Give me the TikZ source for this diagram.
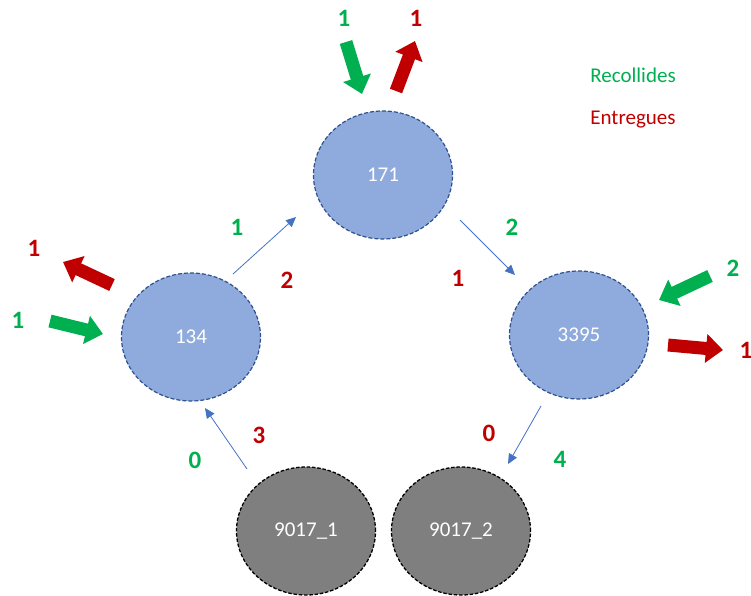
\documentclass[tikz,border=0pt]{standalone}
\usepackage{fontspec}
\setmainfont{Carlito}
\usetikzlibrary{arrows.meta,shapes.geometric}

\definecolor{recgreen}{HTML}{00B050}
\definecolor{entred}{HTML}{C00000}
\definecolor{linkblue}{HTML}{4472C4}
\definecolor{nodefill}{HTML}{8FAADC}
\definecolor{nodeline}{HTML}{2F528F}
\definecolor{depotfill}{HTML}{7F7F7F}

\tikzset{
  stop/.style={ellipse, fill=nodefill, draw=nodeline, line width=1.2pt,
    dash pattern=on 4pt off 2pt, minimum width=139pt, minimum height=128pt,
    inner sep=0pt, text=white, font=\fontsize{21}{24}\selectfont},
  depot/.style={stop, fill=depotfill, draw=black, line width=1.3pt,
    dash pattern=on 3.5pt off 1.8pt},
  link/.style={draw=linkblue, line width=0.8pt,
    -{Triangle[length=10pt,width=9pt]}},
  bigarrow/.style={line width=13pt, -{Triangle[length=17pt,width=28pt]}},
  inarrow/.style={bigarrow, draw=recgreen},
  outarrow/.style={bigarrow, draw=entred},
  num/.style={font=\fontsize{25}{28}\selectfont\bfseries},
  pick/.style={num, text=recgreen},
  drop/.style={num, text=entred},
}

\begin{document}
\begin{tikzpicture}[x=1pt, y=-1pt]
  \useasboundingbox (0,0) rectangle (751,595);

  % stops of the route
  \node[stop] (n171) at (383,175) {171};
  \node[stop] (n134) at (191,337) {134};
  \node[stop] (n3395) at (579,335) {3395};
  \node[depot] (d1) at (306,531) {9017\_1};
  \node[depot] (d2) at (461,531) {9017\_2};

  % ends of the route links
  \coordinate (a1) at (233,274);  \coordinate (b1) at (296,217);
  \coordinate (a2) at (460,220);  \coordinate (b2) at (515,275);
  \coordinate (a3) at (247,469);  \coordinate (b3) at (205,408);
  \coordinate (a4) at (541,406);  \coordinate (b4) at (508,464);

  \draw[link] (a1) -- (b1);
  \draw[link] (a2) -- (b2);
  \draw[link] (a3) -- (b3);
  \draw[link] (a4) -- (b4);

  % pickups and deliveries at each stop
  \coordinate (p171s) at (346,42);  \coordinate (p171e) at (362,94);
  \coordinate (q171s) at (396,91);  \coordinate (q171e) at (415,41);
  \coordinate (p134s) at (50,321);  \coordinate (p134e) at (103,334);
  \coordinate (q134s) at (112,285); \coordinate (q134e) at (63,262);
  \coordinate (p3395s) at (710,276); \coordinate (p3395e) at (659,300);
  \coordinate (q3395s) at (668,345); \coordinate (q3395e) at (723,350);

  \draw[inarrow] (p171s) -- (p171e);
  \draw[outarrow] (q171s) -- (q171e);
  \draw[inarrow] (p134s) -- (p134e);
  \draw[outarrow] (q134s) -- (q134e);
  \draw[inarrow] (p3395s) -- (p3395e);
  \draw[outarrow] (q3395s) -- (q3395e);

  % counts
  \node[pick] (c1) at (344,18) {1};
  \node[drop] (c2) at (416,18) {1};
  \node[drop] (c3) at (34,248) {1};
  \node[pick] (c4) at (18,320) {1};
  \node[pick] (c5) at (733,268) {2};
  \node[drop] (c6) at (746,350) {1};
  \node[pick] (c7) at (237,227) {1};
  \node[drop] (c8) at (287,280) {2};
  \node[pick] (c9) at (512,227) {2};
  \node[drop] (c10) at (458,278) {1};
  \node[pick] (c11) at (195,460) {0};
  \node[drop] (c12) at (259,435) {3};
  \node[drop] (c13) at (489,433) {0};
  \node[pick] (c14) at (560,459) {4};

  % legend
  \node[text=recgreen, font=\fontsize{21}{24}\selectfont] (lg1) at (633,75) {Recollides};
  \node[text=entred, font=\fontsize{21}{24}\selectfont] (lg2) at (633,120) {Entregues};
\end{tikzpicture}
\end{document}
